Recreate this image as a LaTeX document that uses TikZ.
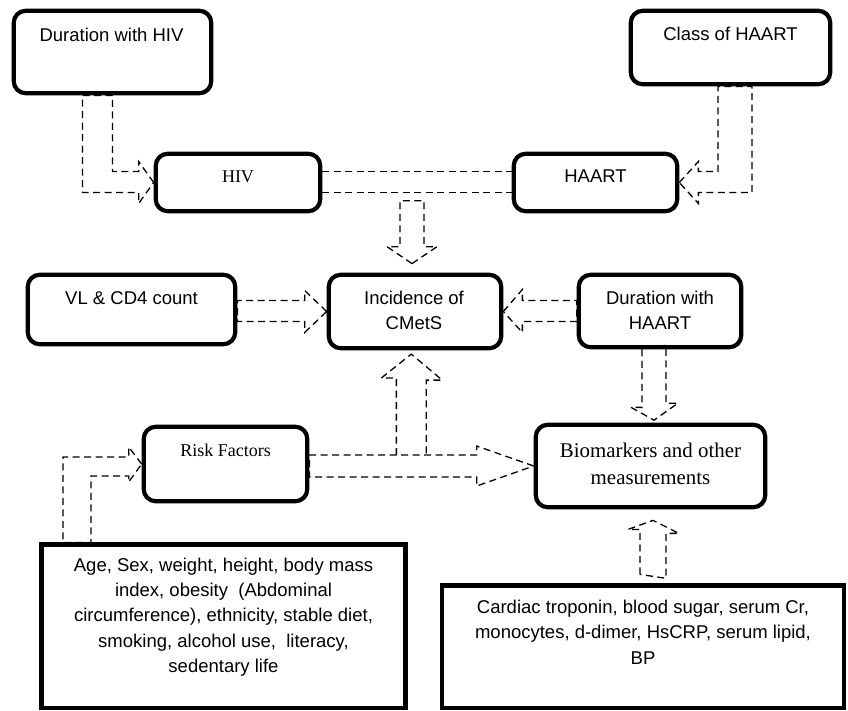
\documentclass[tikz,border=0pt]{standalone}
\usepackage{fontspec}
\setmainfont{Liberation Serif}
\setsansfont{Liberation Sans}
\usetikzlibrary{calc,positioning}

\begin{document}
\begin{tikzpicture}[x=1pt,y=-1pt,semithick]
\tikzstyle{rbox}=[draw=black,line width=4.2pt,rounded corners=12pt,inner sep=0pt]
\tikzstyle{sqbox}=[draw=black,line width=4.2pt,inner sep=0pt]
\tikzstyle{hollow}=[draw=black,line width=1.3pt,dash pattern=on 7pt off 4.5pt,line join=miter]
\tikzstyle{stxt}=[font=\sffamily\fontsize{18.5}{25.2}\selectfont,align=center,inner sep=0pt,anchor=base]
\tikzstyle{rtxt}=[font=\rmfamily\fontsize{18}{27}\selectfont,align=center,inner sep=0pt,anchor=base]

\useasboundingbox (0,0) rectangle (848,710);

\node[rbox,minimum width=197.5,minimum height=82.5] (durhiv) at (112.5,52) {};
\node[rbox,minimum width=199.5,minimum height=73.5] (classh) at (730.5,47.5) {};
\node[rbox,minimum width=164.5,minimum height=57.5] (hiv) at (238,182.5) {};
\node[rbox,minimum width=163.5,minimum height=57.5] (haart) at (595.5,182.5) {};
\node[rbox,minimum width=207.5,minimum height=69.5] (vl) at (131.5,309.5) {};
\node[rbox,minimum width=172.5,minimum height=73.5] (cmets) at (415,311.5) {};
\node[rbox,minimum width=162.5,minimum height=72.5] (durhaart) at (660,311) {};
\node[rbox,minimum width=163.5,minimum height=74.5] (risk) at (225.5,464) {};
\node[rbox,minimum width=229.5,minimum height=82.5] (bio) at (650.5,466) {};
\node[sqbox,minimum width=364,minimum height=163.5] (age) at (223.5,626.25) {};
\node[sqbox,minimum width=402,minimum height=122.5] (cardiac) at (643,646.75) {};

\node[stxt] (durhivt) at ($(durhiv)+(-1,-10.3)$) {Duration with HIV};
\node[stxt] (classht) at ($(classh)+(0,-6.8)$) {Class of HAART};
\node[rtxt] (hivt) at ($(hiv)+(0,0.2)$) {HIV};
\node[stxt] (haartt) at ($(haart)+(0,0.2)$) {HAART};
\node[stxt] (vlt) at ($(vl)+(0,-5.5)$) {VL \& CD4 count};
\node[stxt] (cmetst) at ($(cmets)+(-1,17.8)$) {Incidence of\\CMetS};
\node[stxt] (durhaartt) at ($(durhaart)+(0,18.3)$) {Duration with\\HAART};
\node[rtxt] (riskt) at ($(risk)+(0,-8)$) {Risk Factors};
\node[rtxt,font=\rmfamily\fontsize{20.9}{26.7}\selectfont] (biot) at ($(bio)+(0,18)$) {Biomarkers and other\\measurements};
\node[stxt] (aget) at ($(age)+(0,46)$) {Age, Sex, weight, height, body mass\\index, obesity\ \ (Abdominal\\circumference), ethnicity, stable diet,\\smoking, alcohol use,\ \ literacy,\\sedentary life};
\node[stxt] (cardt) at ($(cardiac)+(0,17.3)$) {Cardiac troponin, blood sugar, serum Cr,\\monocytes, d-dimer, HsCRP, serum lipid,\\BP};

\draw[hollow] (hiv.west) -- ++(-15,-21) -- ++(0,10) -| (durhiv.south) -- ++(-30,0) |- ($(hiv.west)+(-15,10)$) -- ++(0,11) -- cycle;
\draw[hollow] (haart.east) -- ++(19,-21) -- ++(0,10) -| ($(classh.south)+(-12.5,0)$) -- ++(34,0) |- ($(haart.east)+(19,10)$) -- ++(0,11) -- cycle;
\draw[hollow] ($(hiv.east)+(0,-11)$) -- ($(haart.west)+(0,-11)$);
\draw[hollow] ($(hiv.east)+(0,10)$) -- ($(haart.west)+(0,10)$);
\draw[hollow] ($(cmets.north)+(-3,-9)$) -- ++(-25,-17) -- ++(13,0) -- ++(0,-46) -- ++(24,0) -- ++(0,46) -- ++(13,0) -- cycle;
\draw[hollow] (cmets.west) -- ++(-22,-21) -- ++(0,10) -| (vl.east) |- ($(cmets.west)+(-22,10)$) -- ++(0,11) -- cycle;
\draw[hollow] (cmets.east) -- ++(19,-22) -- ++(0,11) -| (durhaart.west) |- ($(cmets.east)+(19,10)$) -- ++(0,11) -- cycle;
\draw[hollow] ($(durhaart.south)+(-18,0)$) -- ++(0,58) -- ++(-11,0) -- ($(bio.north)+(3.5,-2.5)$) -- ++(24,-17) -- ++(-12,0) -- ++(0,-58) -- cycle;
\draw[hollow] (bio.west) -- ++(-57,-20) -- ++(0,9) -| (risk.east) |- ($(bio.west)+(-57,11)$) -- ++(0,9) -- cycle;
\draw[hollow] ($(risk.east)+(87,-9)$) -- ++(0,-77) -- ++(-15,0) -- ($(cmets.south)+(-3.75,3.75)$) -- ++(31,26) -- ++(-16,0) -- ++(0,77);
\draw[hollow] (risk.west) -- ++(-13,-17) -- ++(0,10) -| ($(age.north)+(-160.5,0)$) -- ++(28,0) |- ($(risk.west)+(-13,12)$) -- ++(0,6) -- cycle;
\draw[hollow] ($(cardiac.north)+(-3,-9)$) -- ++(0,-45) -- ++(-12,0) -- ($(bio.south)+(2.5,11)$) -- ++(26,13) -- ++(-13,0) -- ++(0,45) -- cycle;
\end{tikzpicture}
\end{document}
